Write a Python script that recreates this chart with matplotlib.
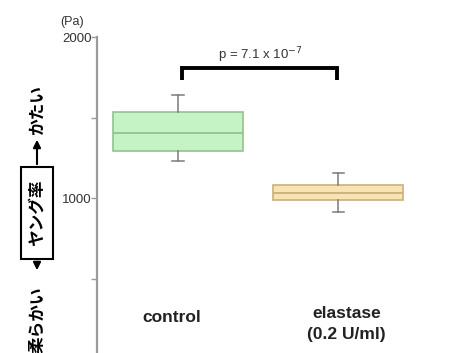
import matplotlib
matplotlib.use("Agg")
import matplotlib.pyplot as plt

plt.rcParams['font.family'] = ['Liberation Sans', 'DejaVu Sans']

# box statistics (Pa)
groups = ['control', 'elastase\n(0.2 U/ml)']
whislo = [1228, 914]
q1 = [1290, 988]
med = [1401, 1031]
q3 = [1537, 1080]
whishi = [1642, 1154]
faces = ['#c6f3c6', '#f8e3b4']
edges = ['#8fc48f', '#c9b07e']
p_text = 'p = 7.1 x 10$^{-7}$'

fig = plt.figure(figsize=(4.64, 3.53), dpi=100)
ax = fig.add_axes([97 / 464, 1 - 359 / 353, 1 - 97 / 464, 322 / 353])

stats = [dict(whislo=whislo[i], q1=q1[i], med=med[i], q3=q3[i], whishi=whishi[i], fliers=[])
         for i in range(len(groups))]
bp = ax.bxp(stats, positions=[1, 2], widths=0.81, patch_artist=True, showfliers=False,
            whiskerprops=dict(color='#7a7a7a', lw=1.1), capprops=dict(color='#7a7a7a', lw=1.1),
            medianprops=dict(lw=1.3), boxprops=dict(lw=1.2))
for i, box in enumerate(bp['boxes']):
    box.set_facecolor(faces[i])
    box.set_edgecolor(edges[i])
    bp['medians'][i].set_color(edges[i])
for c in bp['caps']:
    c.set_xdata([c.get_xdata().mean() - 0.035, c.get_xdata().mean() + 0.035])

ax.set_xlim(0.494, 2.784)
ax.set_ylim(0, 2000)
for s in ['top', 'right', 'bottom']:
    ax.spines[s].set_visible(False)
ax.spines['left'].set_color('#9a9a9a')
ax.spines['left'].set_linewidth(1.6)
ax.set_xticks([])
ax.set_yticks([0, 1000, 2000])
ax.set_yticklabels(['', '1000', '2000'], fontsize=9.5, color='#333333')
ax.set_yticks([500, 1500], minor=True)
ax.tick_params(axis='y', which='major', length=4, width=1, color='#9a9a9a', pad=0)
ax.tick_params(axis='y', which='minor', length=4, width=1, color='#9a9a9a')
ax.text(-0.068, 1.0 + 0.047, '(Pa)', transform=ax.transAxes, fontsize=9, color='#333333',
        ha='center', va='center')

# significance bracket
ax.plot([1.025, 1.025, 1.994, 1.994], [1735, 1809, 1809, 1735], color='black', lw=2.8,
        solid_capstyle='butt', solid_joinstyle='miter')
ax.text(1.51, 1889, p_text, ha='center', va='center', fontsize=9.5, color='#333333')

# group labels
ax.text(0.96, 255, groups[0], ha='center', va='center', fontsize=12.5, fontweight='bold', color='#222222')
ax.text(2.05, 215, groups[1], ha='center', va='center', fontsize=12.5, fontweight='bold',
        color='#222222', linespacing=1.5)

# Japanese axis description on the left
jp = ['Noto Sans CJK JP', 'DejaVu Sans']
W, H = 464, 353
fig.text(37 / W, 1 - 110 / H, 'かたい', rotation=90, ha='center', va='center', fontsize=12,
         fontweight='bold', family=jp)
fig.text(37 / W, 1 - 320 / H, '柔らかい', rotation=90, ha='center', va='center', fontsize=12,
         fontweight='bold', family=jp)
fig.text(37 / W, 1 - 213 / H, 'ヤング率', rotation=90, ha='center', va='center', fontsize=12,
         fontweight='bold', family=jp)
fig.patches.append(plt.Rectangle((21 / W, 1 - 259 / H), 32 / W, 92 / H, transform=fig.transFigure,
                                 fill=False, edgecolor='black', lw=1.5))
fig.patches.append(matplotlib.patches.FancyArrowPatch((37 / W, 1 - 167 / H), (37 / W, 1 - 137 / H),
                                                      transform=fig.transFigure, arrowstyle='-|>',
                                                      mutation_scale=11, lw=1.5, color='black'))
fig.patches.append(matplotlib.patches.FancyArrowPatch((37 / W, 1 - 259 / H), (37 / W, 1 - 273 / H),
                                                      transform=fig.transFigure, arrowstyle='-|>',
                                                      mutation_scale=11, lw=1.5, color='black'))

fig.savefig('out.png', dpi=100)
